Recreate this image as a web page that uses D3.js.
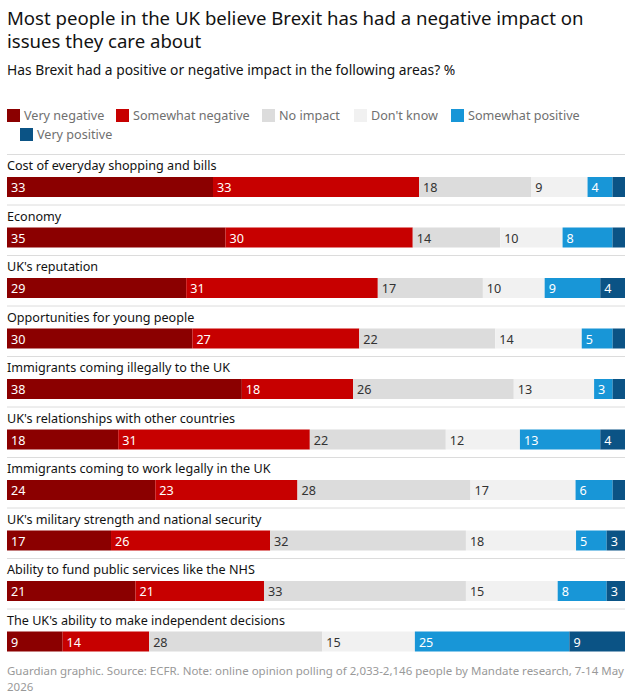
<!DOCTYPE html>
<html><head><meta charset="utf-8">
<script src="https://cdn.jsdelivr.net/npm/d3@7"></script>
<style>body{margin:0;background:#fff;font-family:"Noto Sans",sans-serif}</style>
</head><body><svg id="chart"></svg>
<script>
const categories = ["Very negative","Somewhat negative","No impact","Don't know","Somewhat positive","Very positive"];
const colors = ["#8b0000","#c70000","#dcdcdc","#f1f1f1","#1896d7","#0b5385"];
const textColors = ["#fff","#fff","#333","#333","#fff","#fff"];
const issues = [
  "Cost of everyday shopping and bills",
  "Economy",
  "UK's reputation",
  "Opportunities for young people",
  "Immigrants coming illegally to the UK",
  "UK's relationships with other countries",
  "Immigrants coming to work legally in the UK",
  "UK's military strength and national security",
  "Ability to fund public services like the NHS",
  "The UK's ability to make independent decisions"
];
const veryNegative     = [33,35,29,30,38,18,24,17,21,9];
const somewhatNegative = [33,30,31,27,18,31,23,26,21,14];
const noImpact         = [18,14,17,22,26,22,28,32,33,28];
const dontKnow         = [9,10,10,14,13,12,17,18,15,15];
const somewhatPositive = [4,8,9,5,3,13,6,5,8,25];
const veryPositive     = [2,2,4,2,2,4,2,3,3,9];
const series = [veryNegative,somewhatNegative,noImpact,dontKnow,somewhatPositive,veryPositive];

const width = 634, height = 695;
const svg = d3.select("#chart").attr("width", width).attr("height", height);

svg.append("text").attr("x",7).attr("y",25).attr("font-size",18.6).attr("fill","#121212").text("Most people in the UK believe Brexit has had a negative impact on");
svg.append("text").attr("x",7).attr("y",48).attr("font-size",18.6).attr("fill","#121212").text("issues they care about");
svg.append("text").attr("x",7).attr("y",75).attr("font-size",13.8).attr("fill","#121212").text("Has Brexit had a positive or negative impact in the following areas? %");

// legend
const legendPos = [[7,109],[116,109],[262,109],[354,109],[451,109],[20,128]];
categories.forEach((c,i) => {
  const g = svg.append("g").attr("transform", `translate(${legendPos[i][0]},${legendPos[i][1]})`);
  g.append("rect").attr("width",13).attr("height",13).attr("fill",colors[i]);
  g.append("text").attr("x",17).attr("y",11).attr("font-size",12.6).attr("fill","#707070").text(c);
});

const x0 = 7, x1 = 625;
const rowY = d3.scaleBand().domain(d3.range(issues.length)).range([154, 659]).padding(0);

issues.forEach((name,r) => {
  const y = rowY(r);
  svg.append("line").attr("x1",x0).attr("x2",x1).attr("y1",y+0.5).attr("y2",y+0.5).attr("stroke","#dcdcdc");
  svg.append("text").attr("x",x0).attr("y",y+16).attr("font-size",12.6).attr("fill","#121212").text(name);
  const vals = series.map(s => s[r]);
  const x = d3.scaleLinear().domain([0, d3.sum(vals)]).range([x0, x1]);
  let acc = 0;
  vals.forEach((v,i) => {
    const g = svg.append("g");
    g.append("rect").attr("x",x(acc)).attr("y",y+23).attr("width",x(acc+v)-x(acc)).attr("height",20).attr("fill",colors[i]);
    if (v >= 3) g.append("text").attr("x",x(acc)+4).attr("y",y+38).attr("font-size",12.6).attr("fill",textColors[i]).text(v);
    acc += v;
  });
});

svg.append("text").attr("x",7).attr("y",675).attr("font-size",11.5).attr("fill","#999").text("Guardian graphic. Source: ECFR. Note: online opinion polling of 2,033-2,146 people by Mandate research, 7-14 May");
svg.append("text").attr("x",7).attr("y",691).attr("font-size",11.5).attr("fill","#999").text("2026");
</script></body></html>
